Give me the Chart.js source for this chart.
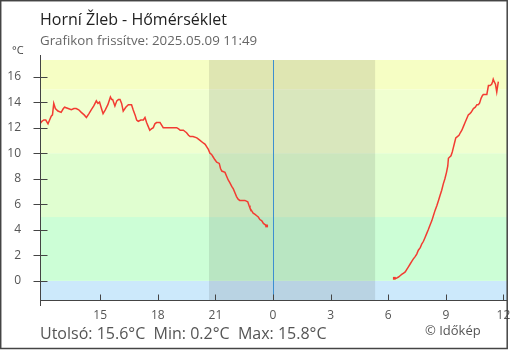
<!DOCTYPE html>
<html>
<head>
<meta charset="utf-8">
<script src="https://cdn.jsdelivr.net/npm/chart.js@4.4.1/dist/chart.umd.min.js"></script>
<style>
  body { margin: 0; background: #fff; font-family: 'Open Sans', sans-serif; }
  #wrap { position: relative; width: 510px; height: 350px; }
  #wrap canvas { position: absolute; left: 0; top: 0; }
  .txt { position: absolute; white-space: pre; line-height: 1; }
  #title { left: 40px; top: 11px; font-size: 16px; color: #222; }
  #sub { left: 40px; top: 34px; font-size: 13.3px; color: #666; }
  #unit { left: 12px; top: 44px; font-size: 11px; color: #444; }
  #stats { left: 40px; top: 325px; font-size: 16px; color: #555; }
  #copy { left: 425px; top: 324px; font-size: 13px; color: #555; }
</style>
</head>
<body>
<div id="wrap">
  <canvas id="myChart" width="510" height="350"></canvas>
  <div class="txt" id="title">Horní Žleb - Hőmérséklet</div>
  <div class="txt" id="sub">Grafikon frissítve: 2025.05.09 11:49</div>
  <div class="txt" id="unit">°C</div>
  <div class="txt" id="stats">Utolsó: 15.6°C  Min: 0.2°C  Max: 15.8°C</div>
  <div class="txt" id="copy">© Időkép</div>
</div>
<script>
// yesterday afternoon / evening readings
const prevTimes = ['11:52','11:58','12:04','12:10','12:17','12:22','12:27','12:31','12:35','12:40','12:48','12:58','13:05','13:09','13:20','13:30','13:38','13:45','13:53','14:01','14:10','14:17','14:25','14:32','14:40','14:48','14:53','14:58','15:04','15:09','15:16','15:24','15:32','15:36','15:39','15:46','15:52','15:57','16:02','16:07','16:12','16:20','16:28','16:38','16:43','16:49','16:54','16:59','17:07','17:15','17:20','17:25','17:30','17:35','17:40','17:46','17:51','17:56','18:07','18:12','18:17','18:25','18:33','18:41','18:49','18:59','19:05','19:10','19:15','19:20','19:25','19:30','19:36','19:41','19:50','20:02','20:07','20:12','20:22','20:28','20:33','20:38','20:43','20:48','20:53','20:58','21:04','21:12','21:16','21:20','21:30','21:35','21:40','21:45','21:51','21:56','22:01','22:06','22:11','22:16','22:22','22:32','22:41','22:45','22:48','22:53','22:58','23:04','23:09','23:14','23:19','23:25','23:30','23:35','23:40'];
const prevTemps = [12.3,12.5,12.6,12.6,12.3,12.6,12.9,13.0,13.9,13.5,13.3,13.2,13.5,13.6,13.5,13.4,13.5,13.5,13.4,13.2,13.0,12.8,13.1,13.4,13.7,14.1,13.9,14.0,13.5,13.1,13.4,13.8,14.4,14.2,14.2,13.7,14.1,14.2,14.2,13.9,13.3,13.6,13.8,13.8,13.4,13.0,12.6,12.5,12.6,12.6,12.8,12.4,12.1,11.8,11.9,12.0,12.3,12.4,12.4,12.2,12.0,12.0,12.0,12.0,12.0,12.0,11.9,11.8,11.8,11.8,11.7,11.6,11.4,11.3,11.3,11.2,11.1,11.0,10.8,10.7,10.5,10.3,10.0,9.9,9.7,9.5,9.3,9.2,8.8,8.6,8.5,8.2,7.9,7.7,7.4,7.2,6.9,6.6,6.4,6.3,6.3,6.3,6.2,5.9,5.7,5.5,5.3,5.2,5.1,5.0,4.8,4.7,4.5,4.4,4.3];

// this morning
const todayTimes = ['06:19','06:25','06:32','06:37','06:42','06:48','06:53','06:58','07:03','07:08','07:13','07:18','07:24','07:29','07:34','07:40','07:45','07:50','07:55','08:00','08:05','08:11','08:16','08:21','08:26','08:32','08:37','08:42','08:47','08:52','08:57','09:02','09:06','09:08','09:12','09:16','09:20','09:23','09:27','09:31','09:36','09:41','09:45','09:50','09:55','10:00','10:05','10:10','10:15','10:19','10:26','10:32','10:37','10:41','10:45','10:50','10:54','10:57','11:03','11:08','11:13','11:18','11:23','11:26','11:28','11:31','11:35','11:39','11:42','11:44'];
const todayTemps = [0.2,0.2,0.3,0.4,0.5,0.6,0.7,0.9,1.1,1.3,1.5,1.7,1.9,2.1,2.4,2.6,2.9,3.1,3.4,3.7,4.0,4.4,4.7,5.1,5.5,5.9,6.3,6.7,7.1,7.6,8.0,8.5,9.0,9.6,9.7,9.8,10.1,10.4,10.8,11.2,11.3,11.4,11.6,11.8,12.1,12.4,12.7,13.0,13.1,13.2,13.5,13.6,13.8,13.8,13.9,14.3,14.5,14.6,14.6,14.6,15.3,15.3,15.4,15.6,15.8,15.6,15.4,14.8,15.3,15.6];

const hourTicks = [-9, -6, -3, 0, 3, 6, 9, 12];
const tempTicks = [0, 2, 4, 6, 8, 10, 12, 14, 16];
const bandEdges = [0, 5, 10, 15];
const bandColors = ['#cce9fb', '#ccfed6', '#e0fed0', '#f0ffd0', '#f6fec4'];
const nightFrom = '20:40';
const nightTo = '05:19';

function toHours(t, dayOffset) {
  const [h, m] = t.split(':').map(Number);
  return h + m / 60 + dayOffset;
}

const points = prevTimes.map((t, i) => ({ x: toHours(t, -24), y: prevTemps[i] }))
  .concat([{ x: 3, y: null }])
  .concat(todayTimes.map((t, i) => ({ x: toHours(t, 0), y: todayTemps[i] })));

// the two points next to the data gap get a small square
const gapIdx = [prevTimes.length - 1, prevTimes.length + 1];

const backdrop = {
  id: 'backdrop',
  beforeDatasetsDraw(chart) {
    const { ctx, chartArea: a, scales: { x, y } } = chart;
    ctx.save();
    const edges = [y.min].concat(bandEdges, [y.max]);
    for (let i = 0; i < bandColors.length; i++) {
      const top = y.getPixelForValue(edges[i + 1]);
      const bot = y.getPixelForValue(edges[i]);
      ctx.fillStyle = bandColors[i];
      ctx.fillRect(a.left, top, a.right - a.left, bot - top);
    }
    const n1 = x.getPixelForValue(toHours(nightFrom, -24));
    const n2 = x.getPixelForValue(toHours(nightTo, 0));
    ctx.fillStyle = 'rgba(40,40,40,0.11)';
    ctx.fillRect(n1, a.top, n2 - n1, a.bottom - a.top);
    // midnight
    const mx = Math.round(x.getPixelForValue(0)) + 0.5;
    ctx.strokeStyle = '#3d8fd1';
    ctx.lineWidth = 1;
    ctx.beginPath();
    ctx.moveTo(mx, a.top);
    ctx.lineTo(mx, a.bottom);
    ctx.stroke();
    ctx.restore();
  },
  afterDraw(chart) {
    const { ctx, chartArea: a, scales: { x, y } } = chart;
    ctx.save();
    ctx.strokeStyle = '#444';
    ctx.lineWidth = 1;
    const ax = Math.round(a.left) + 0.5;
    const ay = Math.round(a.bottom) + 0.5;
    ctx.beginPath();
    ctx.moveTo(ax, a.top - 5);
    ctx.lineTo(ax, a.bottom + 6);
    ctx.moveTo(a.left, ay);
    ctx.lineTo(a.right, ay);
    tempTicks.forEach(v => {
      const py = Math.round(y.getPixelForValue(v)) + 0.5;
      ctx.moveTo(ax - 7, py);
      ctx.lineTo(ax + 7, py);
    });
    hourTicks.forEach(v => {
      const px = Math.round(x.getPixelForValue(v)) + 0.5;
      ctx.moveTo(px, ay - 6);
      ctx.lineTo(px, ay);
    });
    ctx.stroke();
    // outer frame
    ctx.lineWidth = 1.5;
    ctx.strokeStyle = '#444';
    ctx.strokeRect(0.7, 0.7, 506.5, 347.8);
    ctx.restore();
  }
};

Chart.defaults.font.family = "'Open Sans', sans-serif";
Chart.defaults.font.size = 12;
Chart.defaults.color = '#555';

const ctx = document.getElementById('myChart').getContext('2d');
const chart = new Chart(ctx, {
  type: 'line',
  data: {
    datasets: [{
      data: points,
      borderColor: '#f23c32',
      backgroundColor: '#f23c32',
      borderWidth: 1.5,
      tension: 0,
      spanGaps: false,
      pointStyle: 'rect',
      pointRadius: c => gapIdx.includes(c.dataIndex) ? 2 : 0,
      pointBorderWidth: 0
    }]
  },
  options: {
    responsive: false,
    animation: false,
    events: [],
    layout: { padding: { top: 60, right: 3, left: 0, bottom: 0 } },
    plugins: { legend: { display: false }, tooltip: { enabled: false } },
    scales: {
      x: {
        type: 'linear',
        min: toHours('11:52', -24),
        max: toHours('12:11', 0),
        grid: { display: false, drawTicks: false },
        border: { display: false },
        ticks: {
          padding: 8,
          maxRotation: 0,
          autoSkip: false,
          callback: v => String(((v % 24) + 24) % 24)
        },
        afterBuildTicks: s => { s.ticks = hourTicks.map(v => ({ value: v })); },
        afterFit: s => { s.height = 50; s.paddingLeft = 0; s.paddingRight = 0; }
      },
      y: {
        min: -1.5,
        max: 17.3,
        grid: { display: false, drawTicks: false },
        border: { display: false },
        ticks: { padding: 19 },
        afterBuildTicks: s => { s.ticks = tempTicks.map(v => ({ value: v })); },
        afterFit: s => { s.width = 40; s.paddingTop = 0; s.paddingBottom = 0; }
      }
    }
  },
  plugins: [backdrop]
});
</script>
</body>
</html>
